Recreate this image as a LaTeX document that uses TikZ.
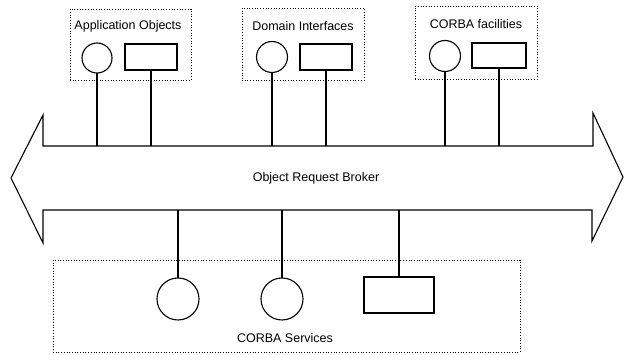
\documentclass[tikz,border=0pt]{standalone}
\usepackage{fontspec}
\setmainfont{Liberation Sans}
\begin{document}
\begin{tikzpicture}[x=1pt,y=-1pt,
  every node/.style={inner sep=0pt,outer sep=0pt},
  line/.style={line width=1.1pt},
  group/.style={draw,line width=0.9pt,dash pattern=on 0.9pt off 1.8pt},
  obj/.style={draw,line width=1.1pt,circle},
  iface/.style={draw,line width=1.1pt,rectangle},
  lbl/.style={font=\fontsize{12.5}{14}\selectfont}]
\useasboundingbox (0,0) rectangle (625,355);

% the broker: a double-headed bus
\draw[line,line join=miter]
  (43,146) -- (43,115) -- (11,178) -- (43,243) -- (43,210) -- (592,210)
  -- (592,241) -- (623,177) -- (593,113) -- (593,146) -- cycle;
\node[lbl] (orb) at (316,178) {Object Request Broker};
\coordinate (bustop) at (316,146);
\coordinate (busbot) at (316,210);

% upper groups
\node[group,minimum width=121pt,minimum height=71pt] (g1) at (130.5,44.5) {};
\node[lbl] (g1l) at (128,26) {Application Objects};
\node[obj,minimum size=30pt] (c1) at (97,58) {};
\node[iface,minimum width=52pt,minimum height=26pt] (r1) at (151,57) {};

\node[group,minimum width=122pt,minimum height=72pt] (g2) at (303,44) {};
\node[lbl] (g2l) at (303,26) {Domain Interfaces};
\node[obj,minimum size=31pt] (c2) at (272,57) {};
\node[iface,minimum width=52pt,minimum height=26pt] (r2) at (326,57) {};

\node[group,minimum width=122pt,minimum height=73pt] (g3) at (476,42.5) {};
\node[lbl] (g3l) at (476,24) {CORBA facilities};
\node[obj,minimum size=31pt] (c3) at (445,56) {};
\node[iface,minimum width=54pt,minimum height=25pt] (r3) at (499,55.5) {};

% lower group
\node[group,minimum width=467pt,minimum height=92pt] (g4) at (286.5,306) {};
\node[lbl] (g4l) at (285,338) {CORBA Services};
\node[obj,minimum size=42pt] (c4) at (178,299) {};
\node[obj,minimum size=42pt] (c5) at (282,299) {};
\node[iface,minimum width=70pt,minimum height=36pt] (r4) at (399,295) {};

% stems to the bus
\foreach \n in {c1,r1,c2,r2,c3,r3}
  \draw[line] (\n.south) -- (\n.south |- bustop);
\foreach \n in {c4,c5,r4}
  \draw[line] (\n.north) -- (\n.north |- busbot);
\end{tikzpicture}
\end{document}
